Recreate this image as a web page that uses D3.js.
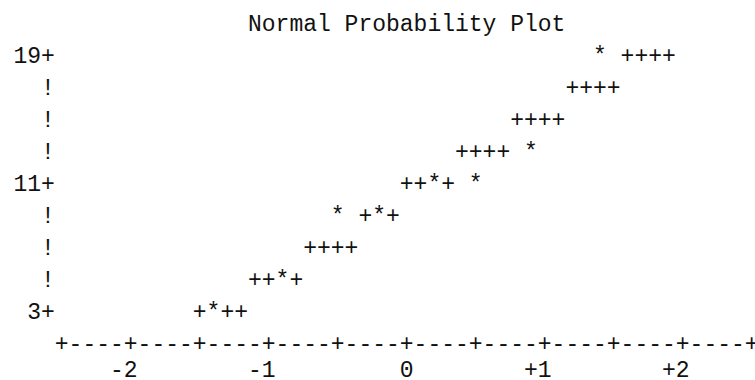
<!DOCTYPE html>
<html>
<head>
<meta charset="utf-8">
<script src="https://cdn.jsdelivr.net/npm/d3@7"></script>
<style>
    body { margin: 0; background: white; }
    text { font-family: "Liberation Mono", "DejaVu Sans Mono", monospace; font-size: 23px; fill: #111; }
</style>
</head>
<body>
<svg class="svgMain" width="755" height="380"></svg>
<script>
// Line printer style normal probability plot.

// Observations (*) : normal quantile and value.
const obsX = [-1.4, -0.9, -0.5, -0.2, 0.2, 0.5, 0.9, 1.4];
const obsY = [3, 5, 9, 9, 11, 11, 13, 19];

// Reference line cells (+), one list of quantiles per printed row.
const refRows = [3, 5, 7, 9, 11, 13, 15, 17, 19];
const refX = [
    [-1.5, -1.4, -1.3, -1.2],
    [-1.1, -1.0, -0.9, -0.8],
    [-0.7, -0.6, -0.5, -0.4],
    [-0.3, -0.2, -0.1],
    [0.0, 0.1, 0.2, 0.3],
    [0.4, 0.5, 0.6, 0.7],
    [0.8, 0.9, 1.0, 1.1],
    [1.2, 1.3, 1.4, 1.5],
    [1.6, 1.7, 1.8, 1.9]
];

// Axis labels.
const xTicks = [-2, -1, 0, 1, 2];
const xTickLabels = ["-2", "-1", "0", "+1", "+2"];
const yTicks = [3, 11, 19];
const yRows = [3, 5, 7, 9, 11, 13, 15, 17, 19];
const title = "Normal Probability Plot";

const svg = d3.select(".svgMain");
const cw = 13.8;          // one printer column
const base = 8;           // baseline offset from the glyph centre

const x = d3.scaleLinear().domain([-2.5, 2.5]).range([61.7, 751.7]);
const y = d3.scaleLinear().domain([1, 19]).range([343, 55]);

// Title.
svg.append("text").text(title)
    .attr("x", x(0)).attr("y", 31)
    .attr("text-anchor", "middle");

// Vertical axis: labelled rows get "n+", the others "!".
yRows.forEach(r => {
    let label = yTicks.indexOf(r) != -1 ? r + "+" : "!";
    svg.append("text").text(label)
        .attr("x", x(-2.5) - cw / 2).attr("y", y(r) + base)
        .attr("text-anchor", "end");
});

// Horizontal axis drawn one printer column at a time.
let cols = d3.range(0, 51).map(c => -2.5 + c * 0.1);
svg.selectAll(".axisChar").data(cols).enter().append("text")
    .attr("class", "axisChar")
    .text((d, i) => i % 5 == 0 ? "+" : "-")
    .attr("x", d => x(d)).attr("y", y(1) + base)
    .attr("text-anchor", "middle");

// Tick labels, last character under the tick.
xTicks.forEach((t, i) => {
    svg.append("text").text(xTickLabels[i])
        .attr("x", x(t) + cw / 2).attr("y", 377)
        .attr("text-anchor", "end");
});

// Reference line, skipping cells hidden behind an observation.
refRows.forEach((r, i) => {
    refX[i].forEach(v => {
        let hidden = obsX.some((ox, j) => Math.abs(ox - v) < 0.01 && obsY[j] == r);
        if (hidden) { return; }
        svg.append("text").text("+")
            .attr("x", x(v)).attr("y", y(r) + base)
            .attr("text-anchor", "middle");
    });
});

// Observations.
obsX.forEach((v, i) => {
    svg.append("text").text("*")
        .attr("x", x(v)).attr("y", y(obsY[i]) + base)
        .attr("text-anchor", "middle");
});
</script>
</body>
</html>
